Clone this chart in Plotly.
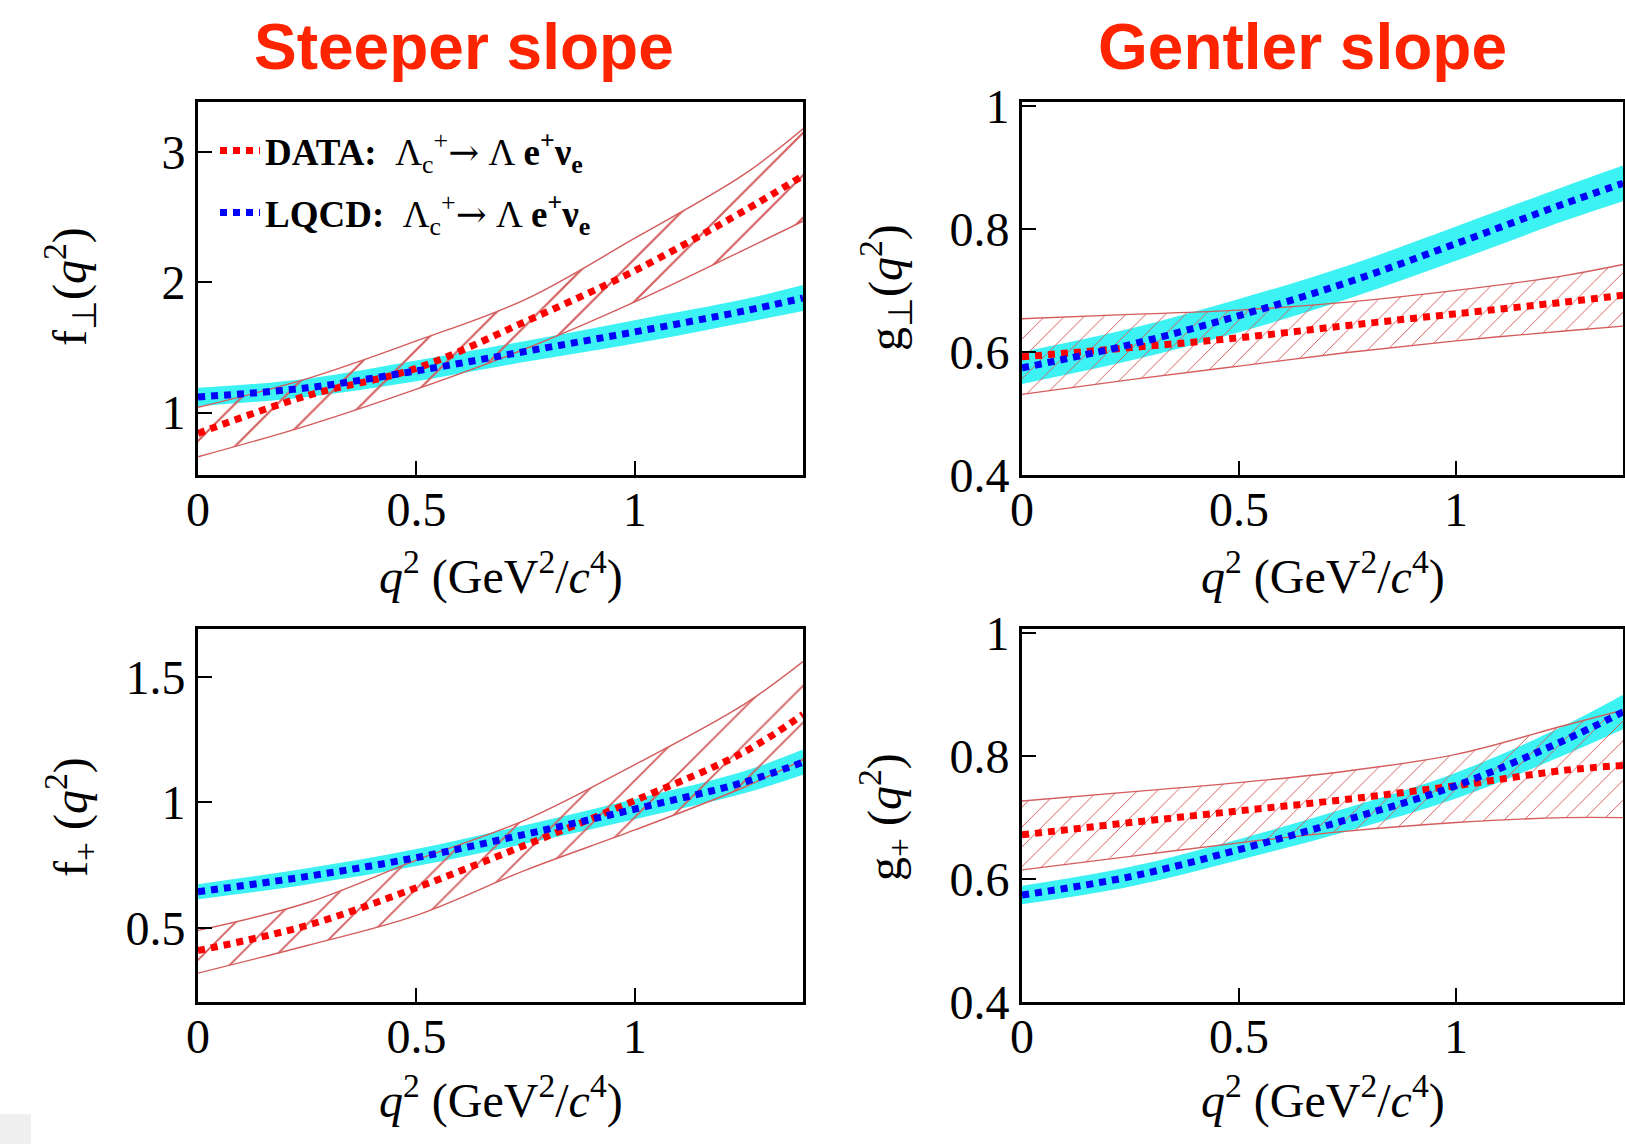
import plotly.graph_objects as go

# ---------------- data ----------------
q2 = [0.0, 0.25, 0.5, 0.75, 1.0, 1.25, 1.385]

# f_perp (top left)
fperp_data = [0.84, 1.13, 1.34, 1.70, 2.09, 2.55, 2.82]
fperp_data_hi = [1.04, 1.26, 1.55, 1.87, 2.34, 2.83, 3.18]
fperp_data_lo = [0.66, 0.90, 1.18, 1.49, 1.85, 2.25, 2.47]
fperp_lqcd = [1.12, 1.19, 1.32, 1.47, 1.62, 1.78, 1.88]
fperp_lqcd_hi = [1.19, 1.26, 1.40, 1.55, 1.71, 1.87, 1.98]
fperp_lqcd_lo = [1.05, 1.12, 1.24, 1.39, 1.53, 1.69, 1.78]

# g_perp (top right)
gperp_data = [0.592, 0.607, 0.623, 0.643, 0.662, 0.681, 0.692]
gperp_data_hi = [0.654, 0.661, 0.668, 0.681, 0.700, 0.724, 0.742]
gperp_data_lo = [0.531, 0.555, 0.577, 0.599, 0.618, 0.634, 0.642]
gperp_lqcd = [0.574, 0.612, 0.659, 0.713, 0.776, 0.841, 0.874]
gperp_lqcd_hi = [0.600, 0.638, 0.686, 0.740, 0.804, 0.869, 0.903]
gperp_lqcd_lo = [0.548, 0.586, 0.632, 0.686, 0.748, 0.813, 0.845]

# f_plus (bottom left)
fplus_data = [0.41, 0.51, 0.66, 0.83, 1.007, 1.20, 1.35]
fplus_data_hi = [0.49, 0.60, 0.77, 0.93, 1.15, 1.39, 1.56]
fplus_data_lo = [0.32, 0.43, 0.55, 0.73, 0.89, 1.06, 1.17]
fplus_lqcd = [0.644, 0.705, 0.78, 0.873, 0.973, 1.08, 1.16]
fplus_lqcd_hi = [0.674, 0.737, 0.814, 0.910, 1.013, 1.124, 1.21]
fplus_lqcd_lo = [0.614, 0.673, 0.746, 0.836, 0.933, 1.036, 1.11]

# g_plus (bottom right)
gplus_data = [0.672, 0.692, 0.711, 0.730, 0.752, 0.777, 0.785]
gplus_data_hi = [0.727, 0.742, 0.757, 0.776, 0.803, 0.850, 0.875]
gplus_data_lo = [0.615, 0.637, 0.659, 0.678, 0.692, 0.700, 0.700]
gplus_lqcd = [0.574, 0.604, 0.648, 0.697, 0.752, 0.826, 0.872]
gplus_lqcd_hi = [0.589, 0.620, 0.665, 0.716, 0.773, 0.850, 0.900]
gplus_lqcd_lo = [0.559, 0.588, 0.631, 0.678, 0.731, 0.802, 0.844]

x_ticks = [0, 0.5, 1]
x_ticklabels = ["0", "0.5", "1"]
fperp_ticks = [1, 2, 3]
fperp_ticklabels = ["1", "2", "3"]
g_ticks = [0.4, 0.6, 0.8, 1.0]
g_ticklabels = ["0.4", "0.6", "0.8", "1"]
fplus_ticks = [0.5, 1.0, 1.5]
fplus_ticklabels = ["0.5", "1", "1.5"]

titles = ["Steeper slope", "Gentler slope"]
ytitles = ["f<sub>⊥</sub>(<i>q</i><sup>2</sup>)", "g<sub>⊥</sub>(<i>q</i><sup>2</sup>)",
           "f<sub>+</sub> (<i>q</i><sup>2</sup>)", "g<sub>+</sub> (<i>q</i><sup>2</sup>)"]
xtitle = "<i>q</i><sup>2</sup> (GeV<sup>2</sup>/<i>c</i><sup>4</sup>)"
arrow = "<span style=\"font-family:'DejaVu Serif'\">→</span>"
legend_data = f"<b>DATA:</b>  Λ<sub>c</sub><sup>+</sup>{arrow} Λ <b>e<sup>+</sup>ν<sub>e</sub></b>"
legend_lqcd = f"<b>LQCD:</b>  Λ<sub>c</sub><sup>+</sup>{arrow} Λ <b>e<sup>+</sup>ν<sub>e</sub></b>"

# ---------------- layout geometry ----------------
W, H = 1625, 1144
def px_x(a, b):
    return [a / W, b / W]
def px_y(top, bottom):
    return [1 - bottom / H, 1 - top / H]

dom_x = [px_x(198, 803), px_x(1022, 1623)]
dom_y = [px_y(101.5, 475), px_y(629, 1002)]

RED = "#FF0000"
BLUE = "#0000FF"
CYAN = "#3CF2F2"
HATCH = "#D45C5C"
SERIF = "Liberation Serif"

panels = [
    dict(ax=1, data=fperp_data, hi=fperp_data_hi, lo=fperp_data_lo,
         lq=fperp_lqcd, lqhi=fperp_lqcd_hi, lqlo=fperp_lqcd_lo,
         yr=[0.52, 3.39], yt=fperp_ticks, ytl=fperp_ticklabels, hs=30, col=0, row=0),
    dict(ax=2, data=gperp_data, hi=gperp_data_hi, lo=gperp_data_lo,
         lq=gperp_lqcd, lqhi=gperp_lqcd_hi, lqlo=gperp_lqcd_lo,
         yr=[0.4, 1.007], yt=g_ticks, ytl=g_ticklabels, hs=14, col=1, row=0),
    dict(ax=3, data=fplus_data, hi=fplus_data_hi, lo=fplus_data_lo,
         lq=fplus_lqcd, lqhi=fplus_lqcd_hi, lqlo=fplus_lqcd_lo,
         yr=[0.205, 1.69], yt=fplus_ticks, ytl=fplus_ticklabels, hs=26, col=0, row=1),
    dict(ax=4, data=gplus_data, hi=gplus_data_hi, lo=gplus_data_lo,
         lq=gplus_lqcd, lqhi=gplus_lqcd_hi, lqlo=gplus_lqcd_lo,
         yr=[0.4, 1.007], yt=g_ticks, ytl=g_ticklabels, hs=14, col=1, row=1),
]

fig = go.Figure()
layout = {}
for p in panels:
    i = p["ax"]
    xa = "x" if i == 1 else f"x{i}"
    ya = "y" if i == 1 else f"y{i}"
    common = dict(xaxis=xa, yaxis=ya, mode="lines", line_shape="spline", hoverinfo="skip")
    # LQCD band
    fig.add_trace(go.Scatter(x=q2, y=p["lqlo"], line=dict(width=0, color=CYAN), showlegend=False, **common))
    fig.add_trace(go.Scatter(x=q2, y=p["lqhi"], line=dict(width=0, color=CYAN), fill="tonexty",
                             fillcolor=CYAN, showlegend=False, **common))
    # DATA hatched band
    fig.add_trace(go.Scatter(x=q2, y=p["lo"], line=dict(width=1.4, color=HATCH), showlegend=False, **common))
    fig.add_trace(go.Scatter(x=q2, y=p["hi"], line=dict(width=1.4, color=HATCH), fill="tonexty",
                             fillcolor="rgba(0,0,0,0)",
                             fillpattern=dict(shape="/", fgcolor=HATCH, bgcolor="rgba(0,0,0,0)",
                                              size=p["hs"], solidity=0.07, fillmode="replace"),
                             showlegend=False, **common))
    # central lines
    fig.add_trace(go.Scatter(x=q2, y=p["data"], line=dict(width=7, color=RED, dash="7px,6px"),
                             name=legend_data, showlegend=(i == 1), legend="legend", **common))
    fig.add_trace(go.Scatter(x=q2, y=p["lq"], line=dict(width=7, color=BLUE, dash="7px,6px"),
                             name=legend_lqcd, showlegend=(i == 1), legend="legend2", **common))

    axis_common = dict(showline=True, linecolor="black", linewidth=3, mirror=True,
                       ticks="inside", ticklen=14, tickwidth=2, tickcolor="black",
                       showgrid=False, zeroline=False, automargin=False,
                       tickfont=dict(family=SERIF, size=48, color="black"))
    xkey = "xaxis" if i == 1 else f"xaxis{i}"
    ykey = "yaxis" if i == 1 else f"yaxis{i}"
    layout[xkey] = dict(domain=dom_x[p["col"]], range=[0, 1.385], anchor=ya,
                        tickvals=x_ticks, ticktext=x_ticklabels, ticklabelstandoff=-10, **axis_common)
    layout[ykey] = dict(domain=dom_y[p["row"]], range=p["yr"], anchor=xa,
                        tickvals=p["yt"], ticktext=p["ytl"], **axis_common)

annotations = []
# panel column titles
for k, t in enumerate(titles):
    annotations.append(dict(text=f"<b>{t}</b>", x=[464 / W, 1302 / W][k],
                            y=1 - 47 / H,
                            xref="paper", yref="paper", showarrow=False,
                            xanchor="center", yanchor="middle",
                            font=dict(family="Liberation Sans", size=64, color="#FF2400")))
# y-axis titles
ytitle_pos = [(70, 287), (886, 287), (70, 817), (884, 817)]
for t, (xx, yy) in zip(ytitles, ytitle_pos):
    annotations.append(dict(text=t, x=xx / W, y=1 - yy / H, xref="paper", yref="paper",
                            showarrow=False, textangle=-90, xanchor="center", yanchor="middle",
                            font=dict(family=SERIF, size=48, color="black")))
# x-axis titles
for col in range(2):
    for row in range(2):
        cx = (dom_x[col][0] + dom_x[col][1]) / 2
        yy = [573, 1097][row]
        annotations.append(dict(text=xtitle, x=cx, y=1 - yy / H, xref="paper", yref="paper",
                                showarrow=False, xanchor="center", yanchor="middle",
                                font=dict(family=SERIF, size=48, color="black")))

legend_style = dict(bgcolor="rgba(0,0,0,0)", borderwidth=0, xanchor="left", yanchor="middle",
                    font=dict(family=SERIF, size=37, color="black"), itemwidth=40)
fig.update_layout(
    width=W, height=H,
    margin=dict(l=0, r=0, t=0, b=0, autoexpand=False),
    paper_bgcolor="white", plot_bgcolor="white",
    annotations=annotations,
    legend=dict(x=215 / W, y=1 - 151 / H, **legend_style),
    legend2=dict(x=215 / W, y=1 - 213 / H, **legend_style),
    shapes=[dict(type="rect", xref="paper", yref="paper", x0=0, x1=31 / W, y0=0, y1=30 / H,
                 fillcolor="#EFEFEF", line=dict(width=0), layer="below")],
    **layout,
)

fig.write_html("out.html")
